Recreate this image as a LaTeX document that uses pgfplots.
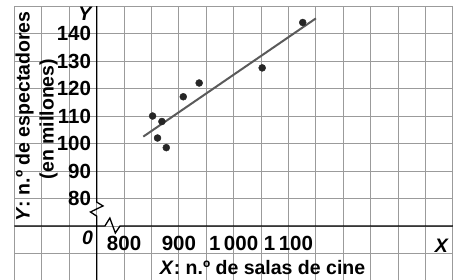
\documentclass[border=0pt]{standalone}
\usepackage{pgfplots}
\pgfplotsset{compat=1.18}
\usepackage{fontspec}
\setmainfont{Liberation Sans}
\definecolor{gridc}{RGB}{155,155,155}
\definecolor{dotc}{RGB}{38,38,38}
\definecolor{linec}{RGB}{90,90,90}
\begin{document}
\begin{tikzpicture}[font=\bfseries\fontsize{19.5bp}{22bp}\selectfont]
\begin{axis}[
  scale only axis, width=438.4bp, height=275bp,
  xmin=600, xmax=1400, ymin=50, ymax=150,
  axis line style={draw=none},
  xtick={600,650,...,1400}, ytick={50,60,...,150},
  xmajorticks=false, ymajorticks=false,
  grid=major, grid style={draw=gridc, line width=0.9bp},
  clip=false,
]
\draw[line width=1.3bp] (axis cs:600,70) -- (axis cs:765,70) -- (axis cs:774,72.9) -- (axis cs:784,67.45) -- (axis cs:792.5,70) -- (axis cs:1400,70);
\draw[line width=1.3bp] (axis cs:750,150) -- (axis cs:750,78.7) -- (axis cs:761.5,77.3) -- (axis cs:738.7,75.1) -- (axis cs:750,73.6) -- (axis cs:750,50);
\pgfplotsinvokeforeach{80,90,...,140}{
  \draw[line width=1.1bp] (axis cs:750,#1) ++(-4.5bp,0) -- ++(8bp,0);
  \node[anchor=east, inner sep=0pt, xshift=-5.5bp, font=\bfseries\fontsize{20.5bp}{22bp}\selectfont] at (axis cs:750,#1) {#1};
}
\pgfplotsinvokeforeach{800,900,1000,1100}{
  \draw[line width=1.1bp] (axis cs:#1,70) ++(0,-4bp) -- ++(0,8bp);
}
\begin{scope}[every node/.style={anchor=north, inner sep=0pt, yshift=-10bp, font=\bfseries\fontsize{20.5bp}{22bp}\selectfont}]
\node at (axis cs:800,70) {800};
\node at (axis cs:900,70) {900};
\node at (axis cs:1000,70) {1\,000};
\node at (axis cs:1100,70) {1\,100};
\end{scope}
\node[inner sep=0pt] at (axis cs:733.2,65.8) {\itshape 0};
\node[inner sep=0pt] at (axis cs:728.6,147.3) {\itshape Y};
\node[inner sep=0pt] at (axis cs:1379,62.9) {\itshape X};
\node[rotate=90, inner sep=0pt] at (axis cs:618.2,109.8) {\textit{Y}: n.º de espectadores};
\node[rotate=90, inner sep=0pt] at (axis cs:662,108.9) {(en millones)};
\node[anchor=base, inner sep=0pt] at (axis cs:1052.6,52.4) {\textit{X}: n.º de salas de cine};
\addplot[line width=2bp, color=linec] coordinates {(835,102.5) (1150,145.5)};
\addplot[only marks, mark=*, mark size=3.5bp, color=dotc] coordinates {
(852,110) (869,108) (861,102) (877,98.5) (908,117) (937,122) (1052,127.5) (1126,144)};
\end{axis}
\pgfresetboundingbox
\path[use as bounding box] (-14.5bp,1bp) rectangle (438.5bp,281bp);
\end{tikzpicture}
\end{document}
